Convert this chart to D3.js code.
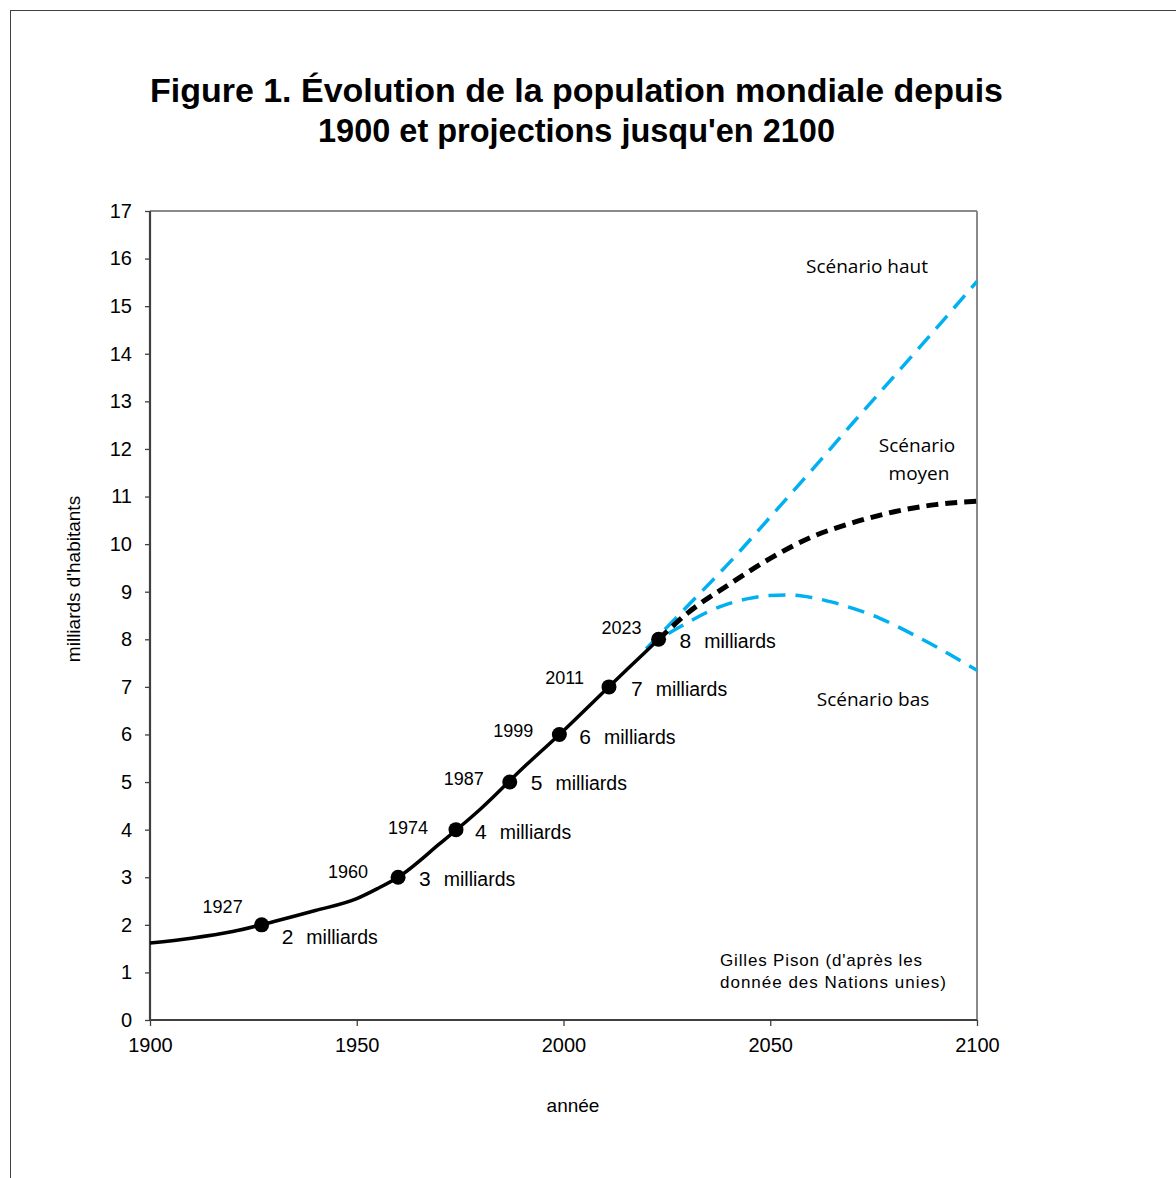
<!DOCTYPE html>
<html><head><meta charset="utf-8">
<script src="https://cdn.jsdelivr.net/npm/d3@7"></script>
<style>
html,body{margin:0;padding:0;background:#fff;}
svg{display:block;}
</style></head>
<body>
<svg id="chart" width="1176" height="1178"></svg>
<script>
// ---- data ----
const histYears = [1900,1910,1920,1930,1940,1950,1955,1960,1970,1980,1990,2000,2010,2020,2023];
const histPop   = [1.62,1.72,1.86,2.07,2.3,2.55,2.76,3.0,3.7,4.44,5.28,6.08,6.92,7.75,8.0];

const medYears = [2023,2030,2040,2050,2060,2070,2080,2090,2100];
const medPop   = [8.0,8.55,9.15,9.7,10.15,10.45,10.68,10.83,10.9];

const highYears = [2020,2030,2040,2050,2060,2070,2080,2090,2100];
const highPop   = [7.8,8.7,9.6,10.57,11.55,12.55,13.53,14.52,15.52];

const lowYears = [2020,2025,2030,2035,2040,2045,2050,2055,2060,2065,2070,2075,2080,2085,2090,2095,2100];
const lowPop   = [7.8,8.1,8.35,8.58,8.75,8.86,8.92,8.93,8.88,8.78,8.65,8.5,8.3,8.08,7.85,7.6,7.35];

const milestoneYears = [1927,1960,1974,1987,1999,2011,2023];
const milestonePop   = [2,3,4,5,6,7,8];
const milestoneUnit  = "milliards";

const xTicks = [1900,1950,2000,2050,2100];
const yTicks = d3.range(0,18,1);

const titleLines = ["Figure 1. Évolution de la population mondiale depuis","1900 et projections jusqu'en 2100"];
const yLabel = "milliards d'habitants";
const xLabel = "année";
const scenarioLabels = [
  {lines:["Scénario haut"]},
  {lines:["Scénario","moyen"]},
  {lines:["Scénario bas"]}
];
const sourceLines = ["Gilles Pison (d'après les","donnée des Nations unies)"];

// ---- layout (styling only) ----
const pLeft=150, pRight=977, pTop=211, pBottom=1020;
const yearLabelOffsets = [[-19,-12],[-30,1],[-28,4],[-26,3],[-26,3],[-25,-3],[-17,-5]];
const valueLabelOffsets = [[20,19],[21,9],[19,9],[21,8],[20,10],[22,9],[21,9]];
const scenarioPos = [[867,273,"middle"],[917,452,"middle"],[873,706,"middle"]];

const svg = d3.select("#chart");
const FONT = "'Liberation Sans', Arial, sans-serif";
const CAL = "'Open Sans', 'Noto Sans', sans-serif";

// outer border
svg.append("rect").attr("x",10.5).attr("y",10.5).attr("width",1200).attr("height",1200)
  .attr("fill","none").attr("stroke","#404040").attr("stroke-width",1);

const x = d3.scaleLinear().domain([1900,2100]).range([pLeft,pRight]);
const y = d3.scaleLinear().domain([0,17]).range([pBottom,pTop]);

// title
const tl = svg.append("g");
tl.append("text").attr("x",576.5).attr("y",101.5).attr("text-anchor","middle")
  .attr("font-family",FONT).attr("font-weight","bold").attr("font-size",33)
  .attr("textLength",853).attr("lengthAdjust","spacingAndGlyphs").text(titleLines[0]);
tl.append("text").attr("x",576.5).attr("y",141.5).attr("text-anchor","middle")
  .attr("font-family",FONT).attr("font-weight","bold").attr("font-size",33)
  .attr("textLength",517).attr("lengthAdjust","spacingAndGlyphs").text(titleLines[1]);

// plot frame: top and right gray
svg.append("line").attr("x1",pLeft).attr("x2",pRight).attr("y1",pTop).attr("y2",pTop)
  .attr("stroke","#8a8a8a").attr("stroke-width",2);
svg.append("line").attr("x1",pRight).attr("x2",pRight).attr("y1",pTop).attr("y2",pBottom)
  .attr("stroke","#8a8a8a").attr("stroke-width",2);

// axes
const yAxis = d3.axisLeft(y).tickValues(yTicks).tickSize(5).tickPadding(13).tickFormat(d3.format("d"));
const gy = svg.append("g").attr("transform",`translate(${pLeft},0)`).call(yAxis);
const xAxis = d3.axisBottom(x).tickValues(xTicks).tickSize(6).tickPadding(12).tickFormat(d3.format("d"));
const gx = svg.append("g").attr("transform",`translate(0,${pBottom})`).call(xAxis);
[gx,gy].forEach(g=>{
  g.select(".domain").attr("stroke","#404040").attr("stroke-width",2.2);
  g.selectAll(".tick line").attr("stroke","#404040").attr("stroke-width",1.3);
  g.selectAll(".tick text").attr("font-family",FONT).attr("font-size",20).attr("fill","#000");
});
gy.select(".domain").attr("d",`M0,${pBottom}V${pTop}`);
gx.select(".domain").attr("d",`M${pLeft},0H${pRight}`);

// axis labels
svg.append("text").attr("transform",`translate(80,579) rotate(-90)`).attr("text-anchor","middle")
  .attr("font-family",FONT).attr("font-size",19).text(yLabel);
svg.append("text").attr("x",573).attr("y",1112).attr("text-anchor","middle")
  .attr("font-family",FONT).attr("font-size",19).text(xLabel);

const line = d3.line().x(d=>x(d[0])).y(d=>y(d[1])).curve(d3.curveMonotoneX);
const zip = (a,b)=>a.map((v,i)=>[v,b[i]]);

// scenarios
svg.append("path").datum(zip(highYears,highPop)).attr("d",line).attr("fill","none")
  .attr("stroke","#00b0f0").attr("stroke-width",3.5).attr("stroke-dasharray","17,10");
svg.append("path").datum(zip(lowYears,lowPop)).attr("d",line).attr("fill","none")
  .attr("stroke","#00b0f0").attr("stroke-width",3.5).attr("stroke-dasharray","17,10");
svg.append("path").datum(zip(medYears,medPop)).attr("d",line).attr("fill","none")
  .attr("stroke","#000").attr("stroke-width",5).attr("stroke-dasharray","12,7");

// history
svg.append("path").datum(zip(histYears,histPop)).attr("d",line).attr("fill","none")
  .attr("stroke","#000").attr("stroke-width",3.5);

// milestones
const ms = zip(milestoneYears,milestonePop);
svg.selectAll("circle.m").data(ms).join("circle").attr("class","m")
  .attr("cx",d=>x(d[0])).attr("cy",d=>y(d[1])).attr("r",7.5).attr("fill","#000");
svg.selectAll("text.yr").data(ms).join("text").attr("class","yr")
  .attr("x",(d,i)=>x(d[0])+yearLabelOffsets[i][0]).attr("y",(d,i)=>y(d[1])+yearLabelOffsets[i][1])
  .attr("text-anchor","end").attr("font-family",FONT).attr("font-size",18).text(d=>d[0]);
const vt = svg.selectAll("text.val").data(ms).join("text").attr("class","val")
  .attr("x",(d,i)=>x(d[0])+valueLabelOffsets[i][0]).attr("y",(d,i)=>y(d[1])+valueLabelOffsets[i][1])
  .attr("font-family",FONT);
vt.append("tspan").attr("font-size",21).text(d=>d[1]);
vt.append("tspan").attr("font-size",19.5).attr("dx",13).text(milestoneUnit);

// scenario labels
scenarioLabels.forEach((s,i)=>{
  const [sx,sy,anc]=scenarioPos[i];
  s.lines.forEach((l,j)=>{
    svg.append("text").attr("x",sx + (j>0?2:0)).attr("y",sy+j*28).attr("text-anchor",anc)
      .attr("font-family",CAL).attr("font-size",19).text(l);
  });
});

// source
const srcLen=[202,226];
sourceLines.forEach((l,j)=>{
  svg.append("text").attr("x",720).attr("y",966+j*22).attr("font-family",FONT)
    .attr("font-size",17).attr("textLength",srcLen[j]).attr("lengthAdjust","spacing").text(l);
});
</script>
</body></html>
